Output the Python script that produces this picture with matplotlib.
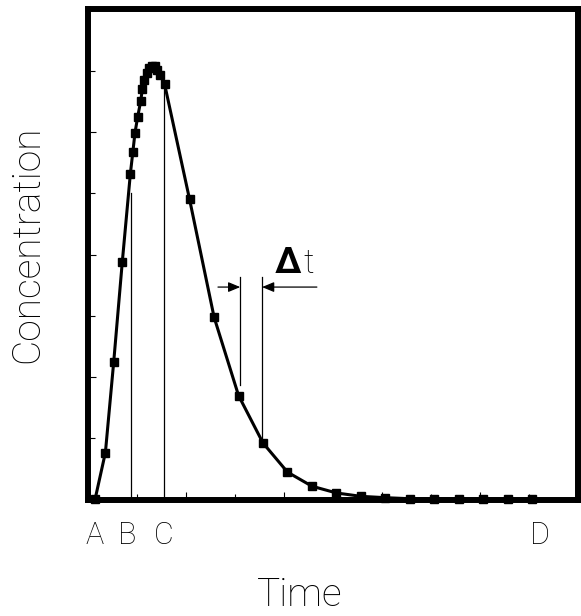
import matplotlib
matplotlib.use("Agg")
import matplotlib.pyplot as plt
from matplotlib.transforms import blended_transform_factory

# curve (time, concentration)
time = [0.29, 0.71, 1.05, 1.40, 1.73, 1.83, 1.92, 2.03, 2.15, 2.22, 2.30, 2.40,
        2.51, 2.62, 2.73, 2.83, 2.94, 3.13,
        4.15, 5.15, 6.15, 7.15, 8.15, 9.15, 10.15, 11.15, 12.15, 13.15,
        14.15, 15.15, 16.15, 17.15, 18.15]
conc = [0.01, 0.77, 2.25, 3.88, 5.32, 5.67, 5.99, 6.25, 6.50, 6.70, 6.85, 6.96,
        7.04, 7.08, 7.08, 7.02, 6.93, 6.78,
        4.90, 2.98, 1.70, 0.925, 0.45, 0.22, 0.11, 0.055, 0.033, 0.016,
        0.01, 0.01, 0.004, 0.004, 0.004]

# letter labels under the time axis
letters = ["A", "B", "C", "D"]
letter_pos = [0.27, 1.59, 3.09, 18.47]

# marker lines: (x, y_bottom, y_top)
b_line = (1.76, 0.0, 5.0)
c_line = (3.12, 0.0, 6.73)
dt_left = (6.22, 1.87, 3.64)
dt_right = (7.11, 0.925, 3.64)

FONT = "Roboto"

fig = plt.figure(figsize=(5.81, 6.16), dpi=100)
ax = fig.add_axes([0.1515, 0.1888, 0.8425, 0.7958])

ax.plot(time, conc, color="black", lw=2.2, marker="s", markersize=5.2,
        clip_on=False, zorder=3)

for x, y0, y1 in [b_line, c_line, dt_left, dt_right]:
    ax.plot([x, x], [y0, y1], color="black", lw=0.9, zorder=2)

# delta t arrows
arrow_y = 3.47
ax.annotate("", xy=(dt_left[0], arrow_y), xytext=(5.31, arrow_y),
            arrowprops=dict(arrowstyle="-|>,head_length=0.6,head_width=0.25",
                            color="black", lw=0.9, mutation_scale=12,
                            shrinkA=0, shrinkB=0))
ax.annotate("", xy=(dt_right[0], arrow_y), xytext=(9.35, arrow_y),
            arrowprops=dict(arrowstyle="-|>,head_length=0.6,head_width=0.25",
                            color="black", lw=0.9, mutation_scale=12,
                            shrinkA=0, shrinkB=0))
ax.text(7.62, 3.70, "Δ", fontsize=26, family=FONT, fontweight="bold",
        ha="left", va="baseline")
ax.text(8.78, 3.70, "t", fontsize=24, family=FONT, fontweight="light",
        ha="left", va="baseline")

ax.set_xlim(0, 20)
ax.set_ylim(0, 8)
ax.set_xticks(range(0, 21, 4))
ax.set_xticks(range(2, 20, 4), minor=True)
ax.set_yticks(range(0, 9, 2))
ax.set_yticks(range(1, 8, 2), minor=True)
ax.tick_params(which="both", direction="in", labelbottom=False, labelleft=False,
               width=0.8, top=False, right=False)
ax.tick_params(which="major", length=6)
ax.tick_params(which="minor", length=4)
ax.tick_params(axis="y", which="minor", length=5)
for s in ax.spines.values():
    s.set_linewidth(4.3)

trans = blended_transform_factory(ax.transData, ax.transAxes)
for lab, x in zip(letters, letter_pos):
    ax.text(x, -0.0904, lab, transform=trans, fontsize=22, family=FONT,
            fontweight="light", ha="center", va="baseline")

fig.text(27.5 / 581, 1 - 244 / 616, "Concentration", rotation=90, fontsize=28,
         family=FONT, fontweight="light", ha="center", va="center")
fig.text(300 / 581, 1 - 606 / 616, "Time", fontsize=28, family=FONT,
         fontweight="light", ha="center", va="baseline")

fig.savefig("out.png", dpi=100)
